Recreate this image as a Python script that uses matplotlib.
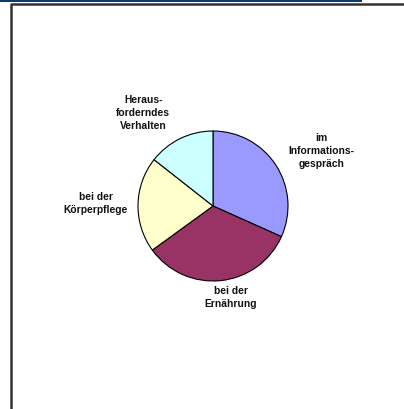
import matplotlib
matplotlib.use("Agg")
import matplotlib.pyplot as plt
from matplotlib.lines import Line2D
from matplotlib.patches import Rectangle

categories = ["im\nInformations-\ngespräch", "bei der\nErnährung", "bei der\nKörperpflege", "Heraus-\nforderndes\nVerhalten"]
values = [31.7, 33.3, 20.6, 14.4]
colors = ["#9999FF", "#993366", "#FFFFCC", "#CCFFFF"]
label_pos = [(1.45, 0.75), (0.24, -1.21), (-1.56, 0.05), (-0.93, 1.25)]

W, H = 404, 410
fig = plt.figure(figsize=(W / 100, H / 100), dpi=100)
fig.patch.set_facecolor("white")

# top blue bar and frame
fig.patches.append(Rectangle((0, 1 - 3 / H), 362 / W, 3 / H, transform=fig.transFigure,
                             facecolor="#0B3A73", edgecolor="none"))
fig.lines.append(Line2D([10.5 / W, 10.5 / W, 1.0], [0.0, 1 - 5 / H, 1 - 5 / H],
                        transform=fig.transFigure, color="#333333", lw=1.8))

cx, cy, r = 213, 207, 75
ax = fig.add_axes([(cx - r) / W, (H - cy - r) / H, 2 * r / W, 2 * r / H])
wedges, texts = ax.pie(values, colors=colors, startangle=90, counterclock=False,
                       labels=categories, radius=1,
                       wedgeprops=dict(edgecolor="black", linewidth=0.8))
for t, (x, y) in zip(texts, label_pos):
    t.set_position((x, y))
    t.set_ha("center")
    t.set_va("center")
    t.set_fontfamily("Liberation Sans")
    t.set_fontweight("bold")
    t.set_fontsize(7.4)
    t.set_linespacing(1.35)
    t.set_color("#111111")
ax.set_xlim(-1, 1)
ax.set_ylim(-1, 1)
ax.set_aspect("equal")
ax.axis("off")

fig.savefig("out.png", dpi=100)
